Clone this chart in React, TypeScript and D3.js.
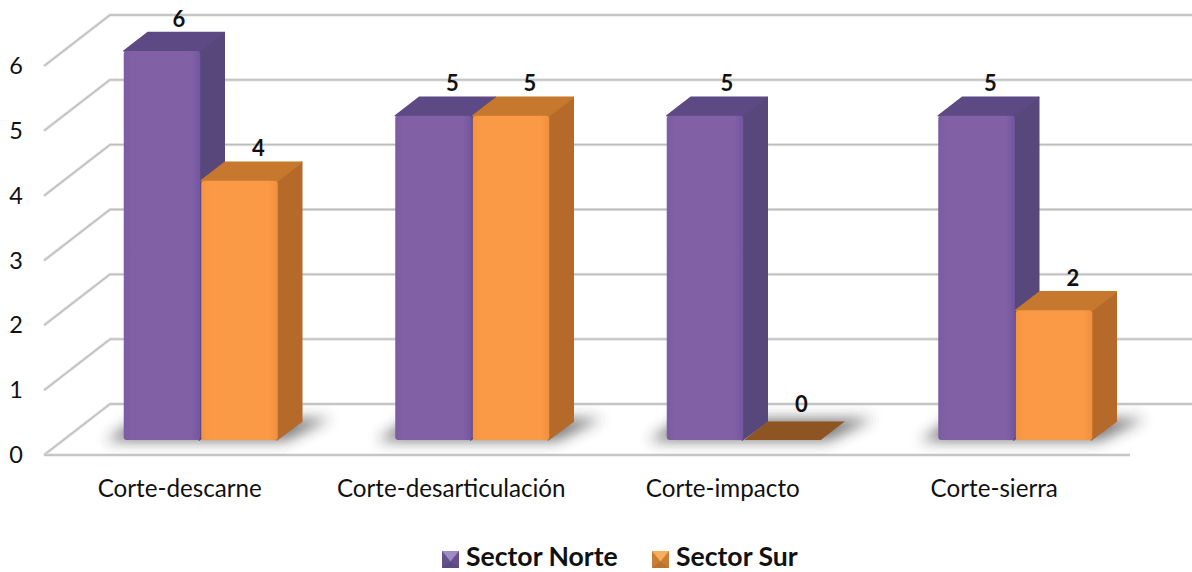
import React from "react";
import * as d3 from "d3";

const categories = ["Corte-descarne", "Corte-desarticulación", "Corte-impacto", "Corte-sierra"];
const sectorNorte = [6, 5, 5, 5];
const sectorSur = [4, 5, 0, 2];
const yTicks = [0, 1, 2, 3, 4, 5, 6];
const seriesNames = ["Sector Norte", "Sector Sur"];

const W = 1192, H = 572;
const FONT = "Lato, 'Open Sans', sans-serif";
const depthX = 66, depthY = 51;
const floorY = 455;
const y = d3.scaleLinear().domain([0, 6]).range([floorY, 66]);
const x = d3.scaleBand<string>().domain(categories).range([44, 1130]);
const barW = 76.5, gap = 1;
const bx0 = 21, by0 = 15, bdx = 24, bdy = 18.5;
const labelNudgeNorte = [-1, 1, 4, -4];

const pal = [
  { front: "url(#fN)", side: "#59467a", top: "#5d4983", flat: "#5f4a86" },
  { front: "url(#fS)", side: "#b56a2c", top: "#c5782d", flat: "#8e5522" },
];
const poly = (p: number[][]) => p.map(a => a.join(",")).join(" ");

function Bar({ left, value, s }: { left: number; value: number; s: number }) {
  const c = pal[s];
  const base = floorY - by0;
  const h = y(0) - y(value);
  const top = base - h;
  const right = left + barW;
  if (value === 0) {
    return <polygon points={poly([[left, base], [right, base], [right + bdx, base - bdy], [left + bdx, base - bdy]])} fill={c.flat} />;
  }
  return (
    <g>
      <polygon points={poly([[right - 1, top], [right + bdx, top - bdy], [right + bdx, base - bdy], [right - 1, base]])} fill={c.side} stroke={c.side} strokeWidth={1.5} strokeLinejoin="round" />
      <polygon points={poly([[left, top], [left + bdx, top - bdy], [right + bdx, top - bdy], [right, top]])} fill={c.top} stroke={c.top} strokeWidth={1.5} strokeLinejoin="round" />
      <rect x={left} y={top} width={barW} height={h} rx={3} fill={c.front} />
    </g>
  );
}

function Swatch({ sx, i }: { sx: number; i: number }) {
  const sy = 551, s = 17;
  const colors = i === 0
    ? { base: "#64508a", light: "#a08cc4", dark: "#54426f" }
    : { base: "#c87f34", light: "#f9ae5c", dark: "#a9662a" };
  return (
    <g>
      <rect x={sx} y={sy} width={s} height={s} fill={colors.base} />
      <polygon points={poly([[sx, sy], [sx + s, sy], [sx + s / 2, sy + s * 0.62]])} fill={colors.light} />
      <polygon points={poly([[sx, sy + s], [sx + s, sy + s], [sx + s / 2, sy + s * 0.62]])} fill={colors.dark} opacity={0.45} />
    </g>
  );
}

export default function App() {
  const step = x.step();
  return (
    <svg width={W} height={H} style={{ position: "absolute", left: 0, top: 0, background: "#fff" }} fontFamily={FONT}>
      <defs>
        <linearGradient id="fN" x1="0" x2="1" y1="0" y2="0">
          <stop offset="0" stopColor="#7a5ca2" />
          <stop offset="0.12" stopColor="#8160a6" />
          <stop offset="0.88" stopColor="#8160a6" />
          <stop offset="1" stopColor="#7356a0" />
        </linearGradient>
        <linearGradient id="fS" x1="0" x2="1" y1="0" y2="0">
          <stop offset="0" stopColor="#f59341" />
          <stop offset="0.12" stopColor="#fa9a46" />
          <stop offset="0.88" stopColor="#fa9a46" />
          <stop offset="1" stopColor="#f0903f" />
        </linearGradient>
        <filter id="blur" x="-30%" y="-80%" width="160%" height="260%">
          <feGaussianBlur stdDeviation="7" />
        </filter>
        <filter id="soft" x="-5%" y="-5%" width="110%" height="110%">
          <feGaussianBlur stdDeviation="0.6" />
        </filter>
      </defs>

      <g filter="url(#soft)">
        {yTicks.map(t => {
          const yf = y(t);
          const yb = yf - depthY;
          return (
            <g key={t} fill="none" strokeLinejoin="round">
              <polyline points={poly([[44, yf], [44 + depthX, yb], [W, yb]])} stroke="#e2e2e2" strokeWidth={3.2} />
              <polyline points={poly([[44, yf], [44 + depthX, yb], [W, yb]])} stroke="#bcbcbc" strokeWidth={1.3} />
              {t === 0 && <line x1={44} x2={1130} y1={yf} y2={yf} stroke="#e2e2e2" strokeWidth={3.2} />}
              {t === 0 && <line x1={44} x2={1130} y1={yf} y2={yf} stroke="#bcbcbc" strokeWidth={1.3} />}
            </g>
          );
        })}

        {categories.map(c => {
          const left = (x(c) as number) + step / 2 + bx0 - barW - gap / 2;
          const base = floorY - by0;
          return (
            <polygon key={c} filter="url(#blur)" fill="#444" opacity={0.7}
              points={poly([[left - 18, base + 1], [left + 2 * barW + 8, base + 1], [left + 2 * barW + bdx + 30, base - bdy - 3], [left + bdx - 10, base - bdy - 3]])} />
          );
        })}

        {categories.map((c, i) => {
          const left = (x(c) as number) + step / 2 + bx0 - barW - gap / 2;
          return (
            <g key={c}>
              <Bar left={left} value={sectorNorte[i]} s={0} />
              <Bar left={left + barW + gap} value={sectorSur[i]} s={1} />
            </g>
          );
        })}
      </g>

      {yTicks.map(t => (
        <text key={t} x={16} y={y(t) + 8} fontSize={23.5} textAnchor="middle" fill="#111">{t}</text>
      ))}

      {categories.map((c, i) => {
        const left = (x(c) as number) + step / 2 + bx0 - barW - gap / 2;
        const labels = [sectorNorte[i], sectorSur[i]];
        return labels.map((v, s) => {
          const cx = left + (s === 0 ? 0 : barW + gap) + barW / 2 + bdx / 2 + (s === 0 ? 6 + labelNudgeNorte[i] : 7);
          const top = floorY - by0 - (y(0) - y(v)) - bdy;
          return <text key={s} x={cx} y={top - (v === 0 ? 10 : 6)} fontSize={22} fontWeight={700} textAnchor="middle" fill="#111">{v}</text>;
        });
      })}

      {categories.map(c => (
        <text key={c} x={(x(c) as number) + step / 2} y={497} fontSize={24.2} textAnchor="middle" fill="#111">{c}</text>
      ))}

      {seriesNames.map((n, i) => {
        const sx = [442, 652][i];
        return (
          <g key={n}>
            <Swatch sx={sx} i={i} />
            <text x={sx + 24} y={566.4} fontSize={26.6} fontWeight={700} fill="#111">{n}</text>
          </g>
        );
      })}
    </svg>
  );
}
